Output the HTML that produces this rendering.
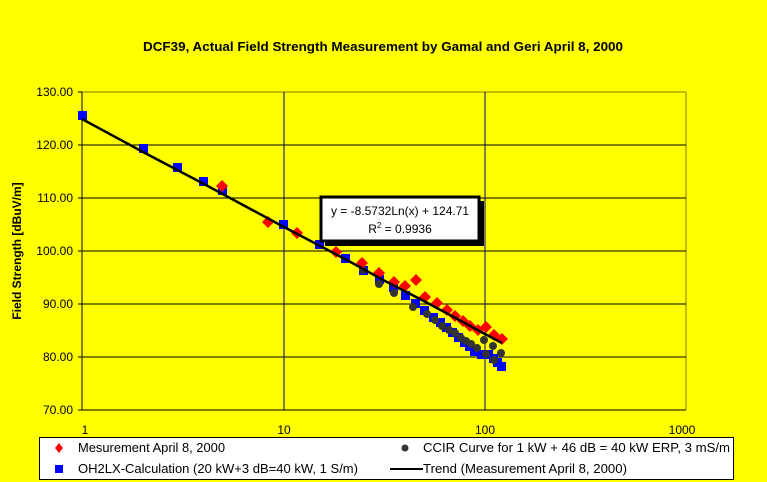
<!DOCTYPE html>
<html><head><style>
body{margin:0;background:#ffff00;}
svg{display:block;font-family:"Liberation Sans",sans-serif;}
</style></head><body>
<svg width="767" height="482" xmlns="http://www.w3.org/2000/svg">
<rect width="767" height="482" fill="#ffff00"/>
<text x="383" y="51" text-anchor="middle" font-size="13" font-weight="bold" textLength="480" lengthAdjust="spacingAndGlyphs">DCF39, Actual Field Strength Measurement by Gamal and Geri April 8, 2000</text>
<g stroke="#000" stroke-width="1">
<line x1="82" y1="92" x2="686" y2="92" stroke="#808000"/>
<line x1="686" y1="92" x2="686" y2="410" stroke="#808000"/>
<line x1="82" y1="145" x2="686" y2="145"/>
<line x1="82" y1="198" x2="686" y2="198"/>
<line x1="82" y1="251" x2="686" y2="251"/>
<line x1="82" y1="304" x2="686" y2="304"/>
<line x1="82" y1="357" x2="686" y2="357"/>
<line x1="82" y1="410" x2="686" y2="410"/>
<line x1="284" y1="92" x2="284" y2="410" stroke="#000080"/>
<line x1="485" y1="92" x2="485" y2="410" stroke="#000080"/>
<line x1="82" y1="92" x2="82" y2="410"/>
<line x1="78" y1="92" x2="82" y2="92"/><line x1="78" y1="145" x2="82" y2="145"/><line x1="78" y1="198" x2="82" y2="198"/><line x1="78" y1="251" x2="82" y2="251"/><line x1="78" y1="304" x2="82" y2="304"/><line x1="78" y1="357" x2="82" y2="357"/><line x1="78" y1="410" x2="82" y2="410"/>
</g>
<g font-size="12" text-anchor="end">
<text x="73" y="96">130.00</text><text x="73" y="149">120.00</text><text x="73" y="202">110.00</text><text x="73" y="255">100.00</text><text x="73" y="308">90.00</text><text x="73" y="361">80.00</text><text x="73" y="414">70.00</text>
</g>
<g font-size="12" text-anchor="middle">
<text x="85" y="434">1</text><text x="284" y="434">10</text><text x="485" y="434">100</text><text x="682" y="434">1000</text>
</g>
<text transform="translate(21,251) rotate(-90)" text-anchor="middle" font-size="12" font-weight="bold">Field Strength [dBuV/m]</text>
<g fill="#0000ff">
<rect x="78" y="111" width="9" height="9"/><rect x="139" y="144" width="9" height="9"/><rect x="173" y="163" width="9" height="9"/><rect x="199" y="177" width="9" height="9"/><rect x="218" y="186" width="9" height="9"/><rect x="279" y="220" width="9" height="9"/><rect x="315" y="240" width="9" height="9"/><rect x="341" y="254" width="9" height="9"/><rect x="359" y="266" width="9" height="9"/><rect x="375" y="275" width="9" height="9"/><rect x="389" y="283" width="9" height="9"/><rect x="401" y="291" width="9" height="9"/><rect x="411" y="299" width="9" height="9"/><rect x="420" y="306" width="9" height="9"/><rect x="429" y="313" width="9" height="9"/><rect x="436" y="318" width="9" height="9"/><rect x="442" y="323" width="9" height="9"/><rect x="448" y="328" width="9" height="9"/><rect x="454" y="333" width="9" height="9"/><rect x="460" y="338" width="9" height="9"/><rect x="465" y="342" width="9" height="9"/><rect x="470" y="347" width="9" height="9"/><rect x="477" y="350" width="9" height="9"/><rect x="484" y="350" width="9" height="9"/><rect x="489" y="354" width="9" height="9"/><rect x="493" y="358" width="9" height="9"/><rect x="497" y="362" width="9" height="9"/>
</g>
<g fill="#333">
<circle cx="363" cy="270" r="4"/><circle cx="379" cy="284" r="4"/><circle cx="394" cy="293" r="4"/><circle cx="413" cy="307" r="4"/><circle cx="427" cy="314" r="4"/><circle cx="435" cy="320" r="4"/><circle cx="442" cy="326" r="4"/><circle cx="449" cy="330" r="4"/><circle cx="455" cy="333" r="4"/><circle cx="461" cy="338" r="4"/><circle cx="466" cy="341" r="4"/><circle cx="471" cy="344" r="4"/><circle cx="477" cy="348" r="4"/><circle cx="484" cy="340" r="4"/><circle cx="486" cy="354" r="4"/><circle cx="493" cy="346" r="4"/><circle cx="494" cy="360" r="4"/><circle cx="501" cy="353" r="4"/>
</g>
<g fill="#ff0000">
<path d="M222 180l6 6-6 6-6-6z"/><path d="M268 216l6 6-6 6-6-6z"/><path d="M297 227l6 6-6 6-6-6z"/><path d="M336 246l6 6-6 6-6-6z"/><path d="M362 257l6 6-6 6-6-6z"/><path d="M379 267l6 6-6 6-6-6z"/><path d="M394 276l6 6-6 6-6-6z"/><path d="M405 280l6 6-6 6-6-6z"/><path d="M416 274l6 6-6 6-6-6z"/><path d="M425 291l6 6-6 6-6-6z"/><path d="M437 297l6 6-6 6-6-6z"/><path d="M447 304l6 6-6 6-6-6z"/><path d="M455 310l6 6-6 6-6-6z"/><path d="M463 315l6 6-6 6-6-6z"/><path d="M470 320l6 6-6 6-6-6z"/><path d="M478 324l6 6-6 6-6-6z"/><path d="M486 321l6 6-6 6-6-6z"/><path d="M494 329l6 6-6 6-6-6z"/><path d="M502 333l6 6-6 6-6-6z"/>
</g>
<polyline fill="none" stroke="#000" stroke-width="2.5" points="82,119 143,152 204,184 284,227 345,259 385,281 420,299 450,315 485,334 502,343"/>
<rect x="325" y="201" width="159" height="45" fill="#000"/>
<rect x="321" y="197" width="158" height="44" fill="#fff" stroke="#000" stroke-width="3"/>
<text x="400" y="215" text-anchor="middle" font-size="12">y = -8.5732Ln(x) + 124.71</text>
<text x="400" y="233" text-anchor="middle" font-size="12">R<tspan font-size="8" dy="-5">2</tspan><tspan dy="5"> = 0.9936</tspan></text>
<rect x="39.5" y="437.5" width="694" height="42" fill="#fff" stroke="#000"/>
<path d="M59 443l4 5-4 5-4-5z" fill="#ff0000"/>
<text x="78" y="452" font-size="13" textLength="147" lengthAdjust="spacingAndGlyphs">Mesurement April 8, 2000</text>
<rect x="55" y="465" width="8" height="8" fill="#0000ff"/>
<text x="78" y="473" font-size="13" textLength="280" lengthAdjust="spacingAndGlyphs">OH2LX-Calculation (20 kW+3 dB=40 kW, 1 S/m)</text>
<circle cx="405" cy="448" r="3.5" fill="#333"/>
<text x="423" y="452" font-size="13" textLength="307" lengthAdjust="spacingAndGlyphs">CCIR Curve for 1 kW + 46 dB = 40 kW ERP, 3 mS/m</text>
<line x1="390" y1="469" x2="423" y2="469" stroke="#000" stroke-width="2"/>
<text x="423" y="473" font-size="13" textLength="204" lengthAdjust="spacingAndGlyphs">Trend (Measurement April 8, 2000)</text>
</svg>
</body></html>
